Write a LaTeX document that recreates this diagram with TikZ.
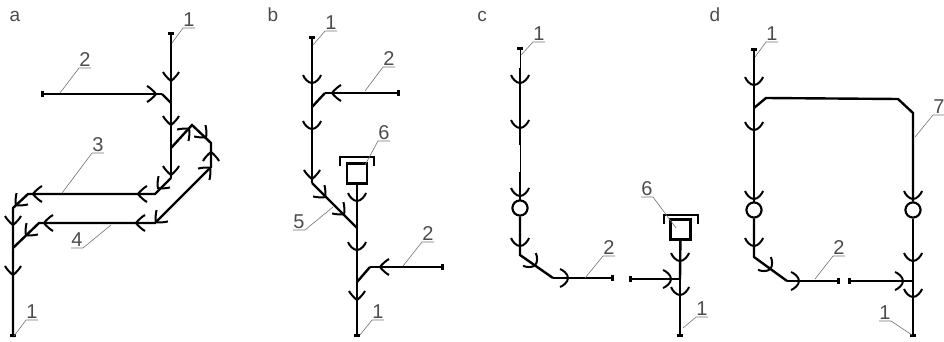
\documentclass[tikz,border=0pt]{standalone}
\usepackage{fontspec}
\setmainfont{Liberation Sans}
\usetikzlibrary{arrows.meta}

\tikzset{pipe/.style={line width=2.4pt,black}}
\tikzset{pipethin/.style={line width=1pt,black}}
\tikzset{endbar/.style={-{Rectangle[width=6.5pt,length=3pt]}}}
\tikzset{leader/.style={line width=0.6pt,black!55}}
\tikzset{lbl/.style={anchor=south,inner sep=0pt,outer sep=0pt,minimum width=12pt,minimum height=16pt,font=\fontsize{20}{20}\selectfont,text=black!70}}
\tikzset{panel/.style={inner sep=0pt,font=\fontsize{19}{19}\selectfont,text=black!70}}
\tikzset{valve/.style={circle,draw,line width=2pt,fill=white,minimum size=15pt,inner sep=0pt}}
\tikzset{gauge/.style={rectangle,draw,line width=2.4pt,fill=white,minimum size=20pt,inner sep=0pt}}
\tikzset{cupmark/.pic={\draw[line width=2pt] (-5,-9) .. controls (-2,-8) and (3,-4) .. (3,0) .. controls (3,4) and (-2,8) .. (-5,9);}}
\tikzset{forkmark/.pic={\draw[line width=2pt] (-6,-8) .. controls (-4,-7) and (1,-3) .. (3,0) .. controls (1,3) and (-4,7) .. (-6,8);}}
\tikzset{capmark/.pic={\draw[line width=2.4pt] (-17,9) -- (-17,0) -- (17,0) -- (17,9);}}

\begin{document}
\begin{tikzpicture}[x=1pt,y=-1pt]
\useasboundingbox (0,0) rectangle (944,342);

% panel titles
\node[panel] (ta) at (15,16) {a};
\node[panel] (tb) at (273,15) {b};
\node[panel] (tc) at (482,16) {c};
\node[panel] (td) at (715,15) {d};

% pipe points
\foreach \n/\x/\y in {a1/171/32,a2/171/178,a3/155/194,a4/28/194,a5/13/208,a6/13/337,
  a7/41/94,a8/162/94,a9/171/103,a10/171/148,a11/192/125,a12/211/143,a13/211/167,
  a14/155/223,a15/39/223,a16/13/248,
  b1/312/36,b2/312/183,b3/357/228,b4/357/337,b5/400/93,b6/325/93,b7/312/107,
  b8/444/267,b9/370/267,b10/357/282,
  c1/520/47,c2/520/68,c3/520/145,c4/520/172,c5/520/255,c6/553/278,c7/614/278,
  c8/629/279,c9/680/279,c10/680/337,
  d1/754/48,d2/754/257,d3/787/281,d4/840/281,d5/848/281,d6/913/281,d7/913/337,
  d8/754/108,d9/766/98,d10/898/99,d11/913/113}
  \coordinate (\n) at (\x,\y);

\node[gauge] (bg) at (357,173.5) {};
\node[gauge] (cg) at (680.5,229.5) {};
\node[valve] (cv) at (520,208) {};
\node[valve] (dv) at (754,210) {};
\node[valve] (ev) at (913,210) {};

% panel a
\draw[pipe,endbar] (a2) -- (a1);
\draw[pipe] (a2) -- (a3) -- (a4) -- (a5) -- (a6);
\draw[pipe,endbar] (a5) -- (a6);
\draw[pipe,endbar] (a8) -- (a7);
\draw[pipe] (a8) -- (a9);
\draw[pipe] (a10) -- (a11) -- (a12) -- (a13) -- (a14) -- (a15) -- (a16);

% panel b
\draw[pipe,endbar] (b2) -- (b1);
\draw[pipe] (b2) -- (b3);
\draw[pipe,endbar] (b3) -- (b4);
\draw[pipe,endbar] (b6) -- (b5);
\draw[pipe] (b6) -- (b7);
\draw[pipe,endbar] (b9) -- (b8);
\draw[pipe] (b9) -- (b10);
\draw[pipe] (bg) -- (b3);

% panel c
\draw[pipethin,endbar] (c2) -- (c1);
\draw[pipe] (c2) -- (c3);
\draw[pipethin] (c3) -- (c4);
\draw[pipe] (c4) -- (cv);
\draw[pipe] (cv) -- (c5) -- (c6);
\draw[pipe,endbar] (c6) -- (c7);
\draw[pipe,endbar] (c9) -- (c8);
\draw[pipe] (cg) -- (c9);
\draw[pipe,endbar] (c9) -- (c10);

% panel d
\draw[pipe,endbar] (dv) -- (d1);
\draw[pipe] (dv) -- (d2) -- (d3);
\draw[pipe,endbar] (d3) -- (d4);
\draw[pipe,endbar] (d6) -- (d5);
\draw[pipe] (d8) -- (d9) -- (d10) -- (d11) -- (ev);
\draw[pipe,endbar] (ev) -- (d7);

\node[valve] at (cv) {};
\node[valve] at (dv) {};
\node[valve] at (ev) {};
\node[gauge] at (bg) {};
\node[gauge] at (cg) {};
\pic at (357,157) {capmark};
\pic at (681,215) {capmark};

% flow marks, panels a and b
\foreach \x/\y/\r in {171/78/-90,171/122/-90,171/172/-90,153/94/0,187/131/45,204/135/-45,
  211/155/90,208/170/45,158/220/-135,139/223/180,47/223/180,28/233/-135,141/194/180,
  36/194/180,160/186/-135,18/203/-135,13/222/-90,13/272/-90,
  312/176/-90,335/93/180,323/195/-45,342/212/-45,383/267/180,357/297/-90}
  \pic[rotate=\r] at (\x,\y) {forkmark};

% flow marks, rounder ones
\foreach \x/\y/\r in {312/80/-90,312/126/-90,357/198/-90,357/247/-90,
  520/80/-90,520/125/-90,520/193/-90,520/243/-90,533/263/-45,565/278/0,668/279/0,
  680/258/-90,680/292/-90,
  754/82/-90,754/127/-90,754/196/-90,754/243/-90,768/267/-45,796/281/0,
  913/196/-90,913/258/-90,913/294/-90,900/281/0}
  \pic[rotate=\r] at (\x,\y) {cupmark};

% labels whose leader runs up to the right
\foreach \n/\x/\y/\t/\px/\py in {la1/189/28/1/172/43,la2/85/68/2/60/93,la3/98/153/3/62/193,
  la4/32/320/1/14/336,lb1/331/31/1/313/45,lb2/389/67/2/365/91,lb3/384/141/6/365/165,
  lb4/428/242/2/403/266,lb5/378/320/1/360/335,lc1/539/42/1/521/55,lc2/609/256/2/585/278,
  lc3/702/317/1/683/328,ld1/772/42/1/755/57,ld2/939/115/7/915/137,ld3/839/256/2/815/279}
{
  \node[lbl] (\n) at (\x,\y) {\t};
  \coordinate (\n p) at (\px,\py);
  \draw[leader] (\n p) -- (\n.south west) -- (\n.south east);
}

% labels whose leader runs off to the left
\foreach \n/\x/\y/\t/\px/\py in {la5/77/248/4/111/225,lb6/299/230/5/333/207,lc4/647/197/6/676/228,
  ld4/885/321/1/912/335}
{
  \node[lbl] (\n) at (\x,\y) {\t};
  \coordinate (\n p) at (\px,\py);
  \draw[leader] (\n p) -- (\n.south east) -- (\n.south west);
}

\end{tikzpicture}
\end{document}
